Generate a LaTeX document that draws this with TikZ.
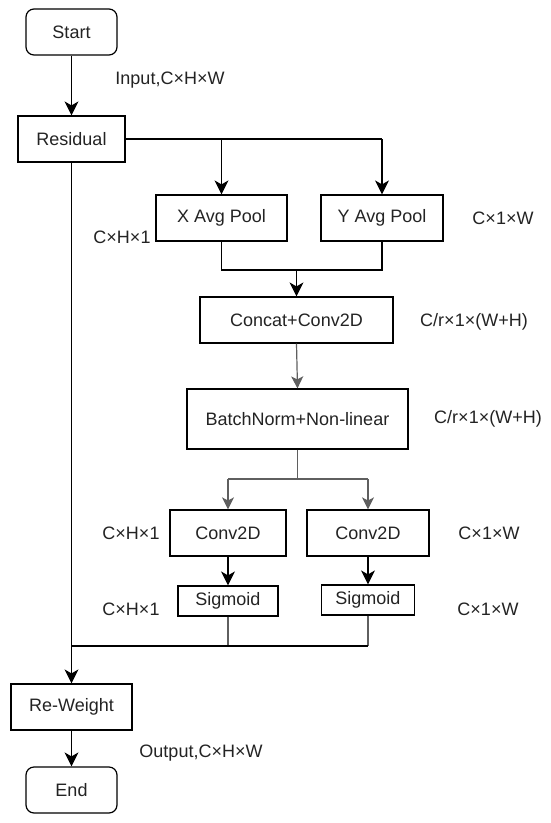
\documentclass[tikz,border=0pt]{standalone}
\usepackage{fontspec}
\setmainfont{Liberation Sans}
\usetikzlibrary{arrows.meta}
\definecolor{txt}{RGB}{35,35,35}
\definecolor{gline}{RGB}{95,95,95}
\tikzset{
  box/.style={draw=black, line width=1.2pt, minimum height=46pt, inner sep=0pt, font=\fontsize{18}{21}\selectfont, text=txt},
  rbox/.style={box, rounded corners=8pt},
  lbl/.style={font=\fontsize{18}{21}\selectfont, text=txt, inner sep=0pt},
  ln/.style={line width=1.2pt, draw=black},
  gln/.style={line width=1.2pt, draw=gline},
  arr/.style={ln, -{Stealth[length=14pt,width=14pt,inset=4pt]}},
  garr/.style={gln, -{Stealth[length=12pt,width=12pt,inset=3pt]}},
}
\begin{document}
\begin{tikzpicture}[x=1pt,y=-1pt]
\useasboundingbox (0,0) rectangle (550,823);
\node[rbox, minimum width=91pt] (start) at (71.5,32) {Start};
\node[box, minimum width=107pt] (res) at (71.5,139) {Residual};
\node[box, minimum width=131pt] (xp) at (221.5,218) {X Avg Pool};
\node[box, minimum width=122pt] (yp) at (382,218) {Y Avg Pool};
\node[box, minimum width=193pt] (cc) at (296.5,320) {Concat+Conv2D};
\node[box, minimum width=221pt, minimum height=60pt] (bn) at (297.5,419) {BatchNorm+Non-linear};
\node[box, minimum width=116pt] (cl) at (228,533) {Conv2D};
\node[box, minimum width=122pt] (cr) at (368,533) {Conv2D};
\node[box, minimum width=100pt, minimum height=30pt] (sl) at (228,601) {Sigmoid};
\node[box, minimum width=93pt, minimum height=30pt] (sr) at (368,600) {Sigmoid};
\node[box, minimum width=121pt] (rw) at (71.5,707) {Re-Weight};
\node[rbox, minimum width=91pt] (end) at (71.5,790) {End};

\node[lbl] (l1) at (170,80) {Input,C×H×W};
\node[lbl] (l2) at (122,237) {C×H×1};
\node[lbl] (l3) at (503,218) {C×1×W};
\node[lbl] (l4) at (474,322) {C/r×1×(W+H)};
\node[lbl] (l5) at (488,419) {C/r×1×(W+H)};
\node[lbl] (l6) at (131,533) {C×H×1};
\node[lbl] (l7) at (489,533) {C×1×W};
\node[lbl] (l8) at (131,609) {C×H×1};
\node[lbl] (l9) at (488,609) {C×1×W};
\node[lbl] (l10) at (201,753) {Output,C×H×W};

\coordinate (m0) at (0,139);
\coordinate (m1) at (0,270);
\coordinate (m2) at (0,479);
\coordinate (m3) at (0,646);

\draw[arr] (start) -- (res);
\draw[ln] (res.east) -- (yp.north |- m0);
\draw[arr] (yp.north |- m0) -- (yp.north);
\draw[arr] (xp.north |- m0) -- (xp.north);
\draw[ln] (xp.south) -- (xp.south |- m1) -- (yp.south |- m1) -- (yp.south);
\draw[arr] (cc.north |- m1) -- (cc.north);
\draw[garr] (cc.south) -- (bn.north);
\draw[gln] (bn.south) -- (bn.south |- m2);
\draw[gln] (cl.north |- m2) -- (cr.north |- m2);
\draw[garr] (cl.north |- m2) -- (cl.north);
\draw[garr] (cr.north |- m2) -- (cr.north);
\draw[arr] (cl.south) -- (sl.north);
\draw[arr] (cr.south) -- (sr.north);
\draw[gln] (sl.south) -- (sl.south |- m3);
\draw[gln] (sr.south) -- (sr.south |- m3);
\draw[ln] (res.south) -- (res.south |- m3) -- (sr.south |- m3);
\draw[arr] (res.south |- m3) -- (rw.north);
\draw[arr] (rw.south) -- (end.north);
\end{tikzpicture}
\end{document}
